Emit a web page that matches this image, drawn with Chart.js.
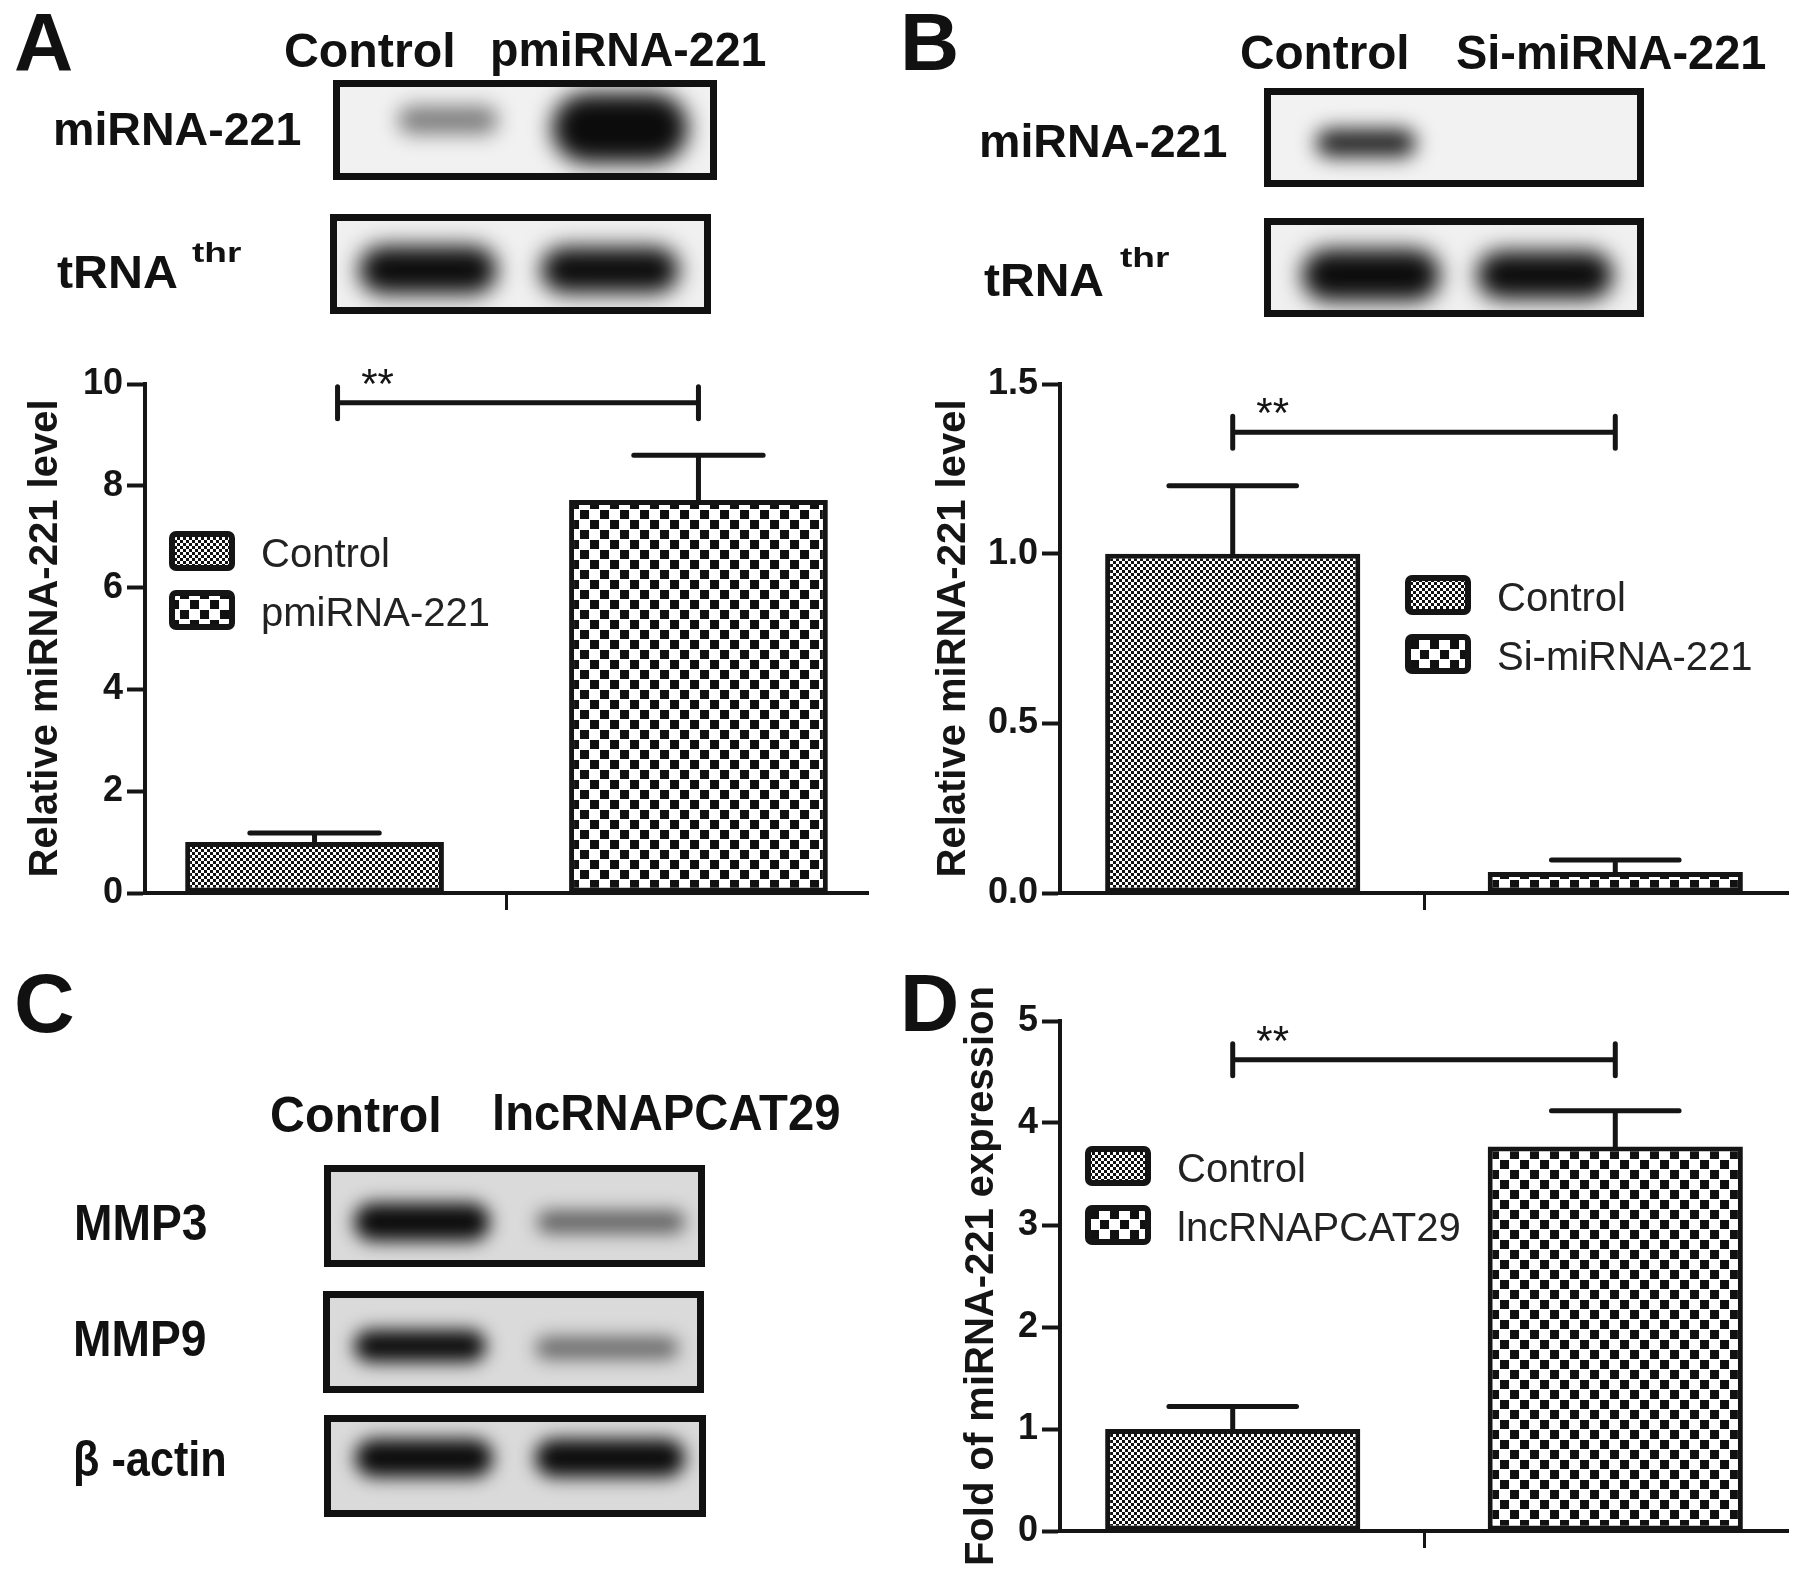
<!DOCTYPE html>
<html lang="en">
<head>
<meta charset="UTF-8">
<title>miRNA-221 expression panels</title>
<script src="https://cdn.jsdelivr.net/npm/chart.js@4.4.1/dist/chart.umd.min.js"></script>
<style>
  html, body { margin: 0; padding: 0; background: #fff; }
  body { position: relative; width: 1795px; height: 1587px; overflow: hidden;
         font-family: 'Liberation Sans', Arial, sans-serif; }
  canvas { position: absolute; }
  .lbl { position: absolute; line-height: 1; white-space: nowrap; transform-origin: 0 0; color: #111; }
</style>
</head>
<body>
<canvas id="blots" width="1795" height="1587" style="left:0;top:0"></canvas>
<canvas id="chartA" width="900" height="630" style="left:0;top:330px"></canvas>
<canvas id="chartB" width="895" height="630" style="left:900px;top:330px"></canvas>
<canvas id="chartD" width="895" height="627" style="left:900px;top:960px"></canvas>

<script>
// ---- chart data ----
var groupsA = ['Control', 'pmiRNA-221'];
var meansA = [1.0, 7.72];
var sdA = [0.18, 0.88];
var ticksA = [0, 2, 4, 6, 8, 10];
var tickLabelsA = ['0', '2', '4', '6', '8', '10'];
var sigA = 9.63;

var groupsB = ['Control', 'Si-miRNA-221'];
var meansB = [1.0, 0.062];
var sdB = [0.2, 0.035];
var ticksB = [0, 0.5, 1.0, 1.5];
var tickLabelsB = ['0.0', '0.5', '1.0', '1.5'];
var sigB = 1.358;

var groupsD = ['Control', 'lncRNAPCAT29'];
var meansD = [1.0, 3.77];
var sdD = [0.22, 0.35];
var ticksD = [0, 1, 2, 3, 4, 5];
var tickLabelsD = ['0', '1', '2', '3', '4', '5'];
var sigD = 4.62;

var INK = '#151515';
Chart.defaults.font.family = "'Liberation Sans', Arial, sans-serif";

// fill patterns (fine checker for Control, coarse checker for the treatment)
function makePattern(cell, dot) {
  var c = document.createElement('canvas');
  c.width = c.height = cell * 2;
  var g = c.getContext('2d');
  g.fillStyle = '#fff';
  g.fillRect(0, 0, cell * 2, cell * 2);
  g.fillStyle = '#111';
  g.fillRect(0, 0, dot, dot);
  g.fillRect(cell, cell, dot, dot);
  return g.createPattern(c, 'repeat');
}
var finePat = makePattern(3, 3);
var coarsePat = makePattern(10, 9);

// error bars, significance bracket and the in-plot legend
var extras = {
  id: 'extras',
  afterDatasetsDraw: function(chart, args, o) {
    var ctx = chart.ctx, y = chart.scales.y;
    var bars = chart.data.datasets.map(function(d, i) { return chart.getDatasetMeta(i).data[0]; });
    ctx.save();
    ctx.strokeStyle = INK;
    ctx.lineWidth = 5;
    ctx.lineCap = 'round';
    bars.forEach(function(b, i) {
      var v = chart.data.datasets[i].data[0];
      var top = y.getPixelForValue(v + o.sd[i]);
      var half = b.width / 4;
      ctx.beginPath();
      ctx.moveTo(b.x, b.y); ctx.lineTo(b.x, top);
      ctx.moveTo(b.x - half, top); ctx.lineTo(b.x + half, top);
      ctx.stroke();
    });

    var by = y.getPixelForValue(o.sig);
    var x1 = bars[0].x + (o.inset || 0), x2 = bars[1].x;
    ctx.beginPath();
    ctx.moveTo(x1, by - 16); ctx.lineTo(x1, by + 16);
    ctx.moveTo(x2, by - 16); ctx.lineTo(x2, by + 16);
    ctx.moveTo(x1, by); ctx.lineTo(x2, by);
    ctx.stroke();
    ctx.fillStyle = INK;
    ctx.font = "42px 'Liberation Sans', Arial";
    ctx.textAlign = 'center';
    ctx.textBaseline = 'alphabetic';
    ctx.fillText('**', x1 + 40, by - 5);

    var L = o.legend;
    chart.data.datasets.forEach(function(d, i) {
      var cy = L.y + i * 59;
      ctx.beginPath();
      ctx.roundRect(L.x, cy - 17, 60, 34, 4);
      ctx.fillStyle = d.backgroundColor;
      ctx.fill();
      ctx.lineWidth = 6;
      ctx.strokeStyle = INK;
      ctx.stroke();
      ctx.fillStyle = '#222';
      ctx.font = "40px 'Liberation Sans', Arial";
      ctx.textAlign = 'left';
      ctx.fillText(d.label, L.x + 89, cy + 16);
    });
    ctx.restore();
  }
};

function barChart(id, groups, means, sd, ticks, tickLabels, sig, opt) {
  return new Chart(document.getElementById(id), {
    type: 'bar',
    data: {
      labels: [''],
      datasets: groups.map(function(g, i) {
        return {
          label: g,
          data: [means[i]],
          backgroundColor: i === 0 ? finePat : coarsePat,
          borderColor: INK,
          borderWidth: 5,
          borderSkipped: false,
          categoryPercentage: opt.cat,
          barPercentage: opt.bar
        };
      })
    },
    options: {
      responsive: false,
      animation: false,
      devicePixelRatio: 1,
      events: [],
      layout: { padding: { top: opt.padTop, right: opt.padRight, bottom: opt.padBottom, left: 0 } },
      plugins: {
        legend: { display: false },
        tooltip: { enabled: false },
        extras: { sd: sd, sig: sig, inset: opt.inset, legend: opt.legend }
      },
      scales: {
        x: {
          grid: { offset: false, drawOnChartArea: false, tickLength: 17, tickWidth: 3, tickColor: INK },
          border: { width: 4, color: INK },
          ticks: { display: true },
          afterFit: function(s) { s.height = 40; }
        },
        y: {
          min: ticks[0],
          max: ticks[ticks.length - 1],
          afterBuildTicks: function(s) { s.ticks = ticks.map(function(v) { return { value: v }; }); },
          ticks: {
            callback: function(v, i) { return tickLabels[i]; },
            font: { family: "'Liberation Sans Narrow', 'Liberation Sans', Arial, sans-serif", size: 36, weight: 'bold' },
            color: INK,
            padding: 4
          },
          grid: { drawOnChartArea: false, tickLength: 18, tickWidth: 4, tickColor: INK },
          border: { width: 4, color: INK },
          title: {
            display: true,
            text: opt.title,
            font: { size: 40, weight: 'bold' },
            color: INK,
            padding: { top: opt.titlePad, bottom: 0 }
          },
          afterFit: function(s) { s.width = opt.axisW; }
        }
      }
    },
    plugins: [extras]
  });
}

barChart('chartA', groupsA, meansA, sdA, ticksA, tickLabelsA, sigA, {
  title: 'Relative miRNA-221 level', axisW: 145, titlePad: 22,
  padTop: 54, padRight: 32, padBottom: 27, cat: 1.062, bar: 0.674, inset: 23,
  legend: { x: 172, y: 221 }
});
barChart('chartB', groupsB, meansB, sdB, ticksB, tickLabelsB, sigB, {
  title: 'Relative miRNA-221 level', axisW: 160, titlePad: 30,
  padTop: 54, padRight: 7, padBottom: 27, cat: 1.051, bar: 0.667, inset: 0,
  legend: { x: 508, y: 265 }
});
barChart('chartD', groupsD, meansD, sdD, ticksD, tickLabelsD, sigD, {
  title: 'Fold of miRNA-221 expression', axisW: 160, titlePad: 58,
  padTop: 61, padRight: 7, padBottom: 16, cat: 1.051, bar: 0.667, inset: 0,
  legend: { x: 188, y: 206 }
});

// ---- blot images ----
var bctx = document.getElementById('blots').getContext('2d');
function blot(x, y, w, h, bg, bands) {
  bctx.save();
  bctx.fillStyle = bg;
  bctx.fillRect(x, y, w, h);
  bctx.beginPath();
  bctx.rect(x, y, w, h);
  bctx.clip();
  bands.forEach(function(b) {
    bctx.filter = 'blur(' + b[5] + 'px)';
    bctx.fillStyle = 'rgba(12,12,12,' + b[4] + ')';
    bctx.beginPath();
    bctx.roundRect(b[0] - b[2] / 2, b[1] - b[3] / 2, b[2], b[3], Math.min(b[2], b[3]) / 2);
    bctx.fill();
  });
  bctx.filter = 'none';
  bctx.restore();
  bctx.lineWidth = 7;
  bctx.strokeStyle = '#111';
  bctx.strokeRect(x + 3.5, y + 3.5, w - 7, h - 7);
}
blot(333, 80, 384, 100, '#f1f1f1', [[448, 120, 100, 28, 0.5, 10], [620, 128, 136, 70, 1, 11]]);
blot(330, 214, 381, 100, '#f0f0f0', [[428, 270, 138, 48, 1, 11], [610, 270, 138, 46, 1, 11]]);
blot(1264, 88, 380, 99, '#f2f2f2', [[1366, 143, 100, 28, 0.9, 10]]);
blot(1264, 218, 380, 99, '#f0f0f0', [[1371, 275, 138, 52, 1, 11], [1545, 275, 136, 48, 1, 11]]);
blot(324, 1165, 381, 102, '#dadada', [[422, 1222, 136, 38, 1, 9], [611, 1222, 148, 22, 0.6, 9]]);
blot(323, 1291, 381, 102, '#dadada', [[420, 1346, 132, 32, 1, 9], [607, 1348, 143, 22, 0.55, 9]]);
blot(324, 1415, 382, 102, '#dadada', [[424, 1458, 138, 38, 1, 9], [610, 1458, 150, 38, 1, 9]]);

// ---- panel letters and blot labels ----
function addText(txt, x, capTop, size, width) {
  var el = document.createElement('div');
  el.className = 'lbl';
  el.textContent = txt;
  el.style.left = x + 'px';
  el.style.top = (capTop - 0.13 * size) + 'px';
  el.style.fontSize = size + 'px';
  el.style.fontWeight = 'bold';
  document.body.appendChild(el);
  if (width) el.style.transform = 'scaleX(' + (width / el.offsetWidth) + ')';
}
addText('A', 14, 12, 82);
addText('B', 900, 12, 82);
addText('C', 14, 972, 84);
addText('D', 900, 973, 82);

addText('Control', 284, 33, 48, 172);
addText('pmiRNA-221', 490, 32, 48, 276);
addText('miRNA-221', 53, 112, 46, 248);
addText('tRNA', 57, 255, 46, 121);
addText('thr', 192, 243, 28, 49);

addText('Control', 1240, 35, 48, 170);
addText('Si-miRNA-221', 1456, 35, 48, 310);
addText('miRNA-221', 979, 124, 46, 248);
addText('tRNA', 984, 263, 46, 120);
addText('thr', 1120, 248, 28, 49);

addText('Control', 270, 1096, 50, 172);
addText('lncRNAPCAT29', 492, 1094, 50, 349);
addText('MMP3', 74, 1204, 50, 133);
addText('MMP9', 73, 1320, 50, 133);
addText('β -actin', 73, 1440, 50, 154);
</script>
</body>
</html>
